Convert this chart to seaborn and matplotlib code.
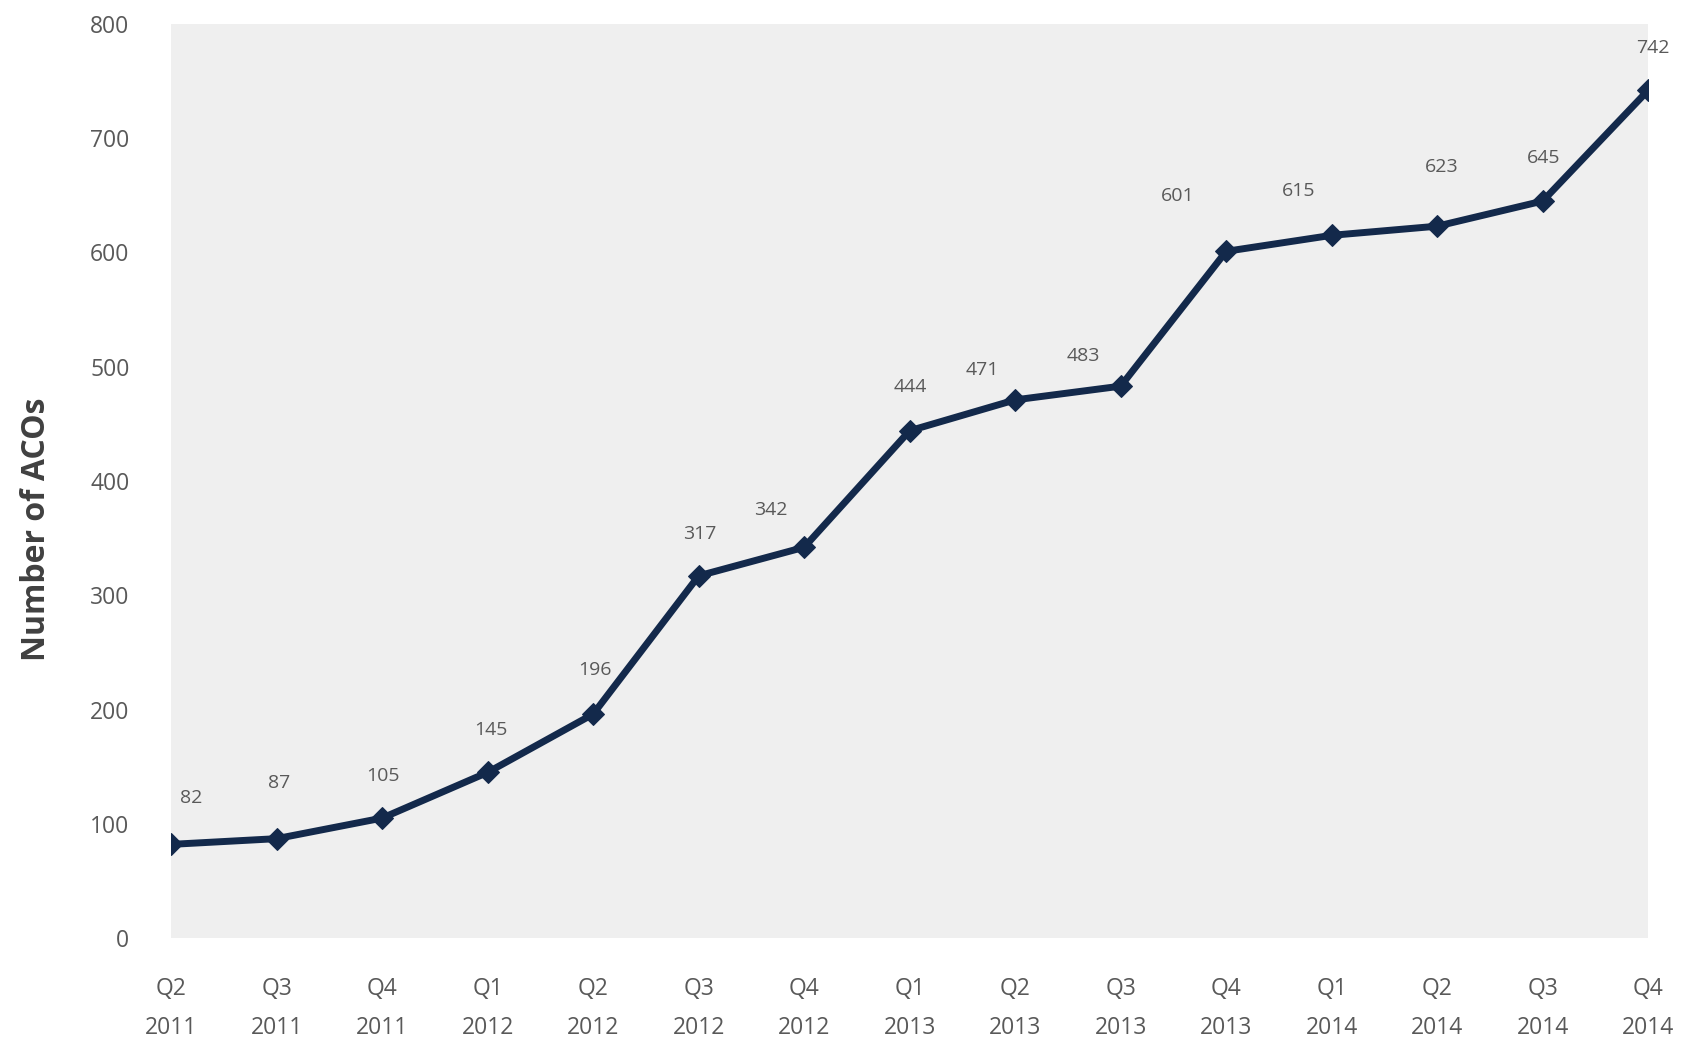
import matplotlib
matplotlib.use("Agg")
import matplotlib.pyplot as plt
import seaborn as sns
import pandas as pd

quarters = ["Q2", "Q3", "Q4", "Q1", "Q2", "Q3", "Q4", "Q1", "Q2", "Q3", "Q4", "Q1", "Q2", "Q3", "Q4"]
years = ["2011", "2011", "2011", "2012", "2012", "2012", "2012", "2013", "2013", "2013", "2013", "2014", "2014", "2014", "2014"]
acos = [82, 87, 105, 145, 196, 317, 342, 444, 471, 483, 601, 615, 623, 645, 742]

# label offsets in pixels (style only)
label_offsets = [(20, 46), (3, 56), (1, 42), (3, 42), (2, 44), (1, 42), (-33, 37), (1, 44),
                 (-33, 30), (-37, 30), (-49, 55), (-33, 44), (4, 59), (1, 43), (5, 42)]

sns.set_theme(style="white")
plt.rcParams['font.family'] = ['Open Sans', 'DejaVu Sans']

df = pd.DataFrame({"pos": range(len(acos)), "acos": acos,
                   "label": [f"{q}\n{y}" for q, y in zip(quarters, years)]})

fig = plt.figure(figsize=(16.94, 10.40), dpi=100)
ax = fig.add_axes([0.101, 0.098, 0.872, 0.879])
ax.set_facecolor("#efefef")

navy = "#13294b"
sns.lineplot(data=df, x="pos", y="acos", ax=ax, color=navy, linewidth=5,
             marker="D", markersize=11, markeredgecolor=navy, markerfacecolor=navy)

for i, v in enumerate(acos):
    dx, dy = label_offsets[i]
    ax.annotate(str(v), (i, v), xytext=(dx, dy), textcoords="offset pixels",
                ha="center", va="center", fontsize=14, color="#595959")

ax.set_xlim(0, len(acos) - 1)
ax.set_ylim(0, 800)
ax.set_yticks(range(0, 801, 100))
ax.set_xticks(df["pos"])
ax.set_xticklabels(df["label"], fontsize=16.5, color="#595959", linespacing=1.85)
ax.tick_params(axis="y", labelsize=16.5, labelcolor="#595959", pad=30)
ax.tick_params(axis="x", pad=28)
ax.tick_params(length=0)
for s in ax.spines.values():
    s.set_visible(False)
ax.set_xlabel("")
ax.set_ylabel("Number of ACOs", fontsize=23, fontweight="bold", color="#404040")
ax.yaxis.set_label_coords(-0.080, 0.447)

fig.savefig("out.png", dpi=100)
